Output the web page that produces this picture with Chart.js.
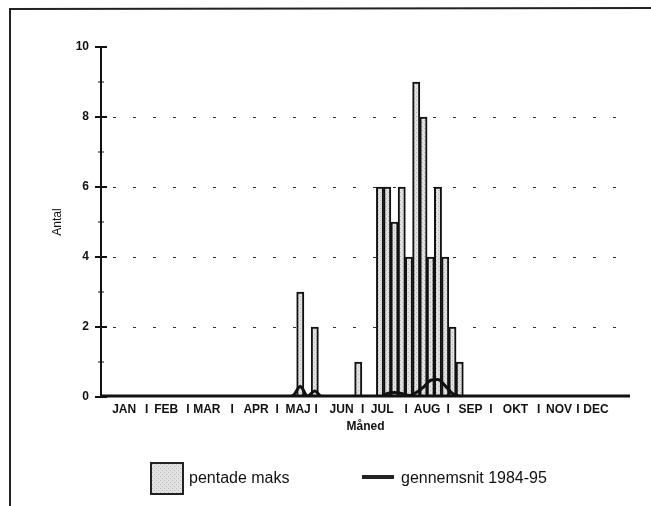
<!DOCTYPE html>
<html>
<head>
<meta charset="utf-8">
<script src="https://cdn.jsdelivr.net/npm/chart.js@4.4.1/dist/chart.umd.min.js"></script>
<style>
  html, body { margin: 0; padding: 0; background: #fff; }
  #wrap { width: 651px; height: 506px; }
</style>
</head>
<body>
<div id="wrap"><canvas id="chart" width="651" height="506"></canvas></div>
<script>
// 73 pentader (5-dages perioder) over året
const maxValues = [
  0, 0, 0, 0, 0, 0, 0, 0, 0, 0, 0, 0, 0, 0, 0, 0, 0, 0, 0, 0, 0, 0, 0, 0, 0, 0, 0,
  3, 0, 2, 0, 0, 0, 0, 0, 1, 0, 0,
  6, 6, 5, 6, 4, 9, 8, 4, 6, 4, 2, 1,
  0, 0, 0, 0, 0, 0, 0, 0, 0, 0, 0, 0, 0, 0, 0, 0, 0, 0, 0, 0, 0, 0, 0
];
const avgValues = [
  0, 0, 0, 0, 0, 0, 0, 0, 0, 0, 0, 0, 0, 0, 0, 0, 0, 0, 0, 0, 0, 0, 0, 0, 0, 0, 0.04,
  0.3, 0.03, 0.17, 0, 0, 0, 0, 0, 0, 0, 0,
  0, 0.1, 0.13, 0.1, 0.04, 0.13, 0.28, 0.48, 0.5, 0.32, 0.1, 0.02,
  0, 0, 0, 0, 0, 0, 0, 0, 0, 0, 0, 0, 0, 0, 0, 0, 0, 0, 0, 0, 0, 0, 0
];
const monthLabels = ['JAN', 'I', 'FEB', 'I', 'MAR', 'I', 'APR', 'I', 'MAJ', 'I', 'JUN', 'I',
  'JUL', 'I', 'AUG', 'I', 'SEP', 'I', 'OKT', 'I', 'NOV', 'I', 'DEC'];
const monthTickPos = [3.2, 6.3, 9.0, 12.0, 14.6, 18.1, 21.4, 24.3, 27.2, 29.7, 33.2, 36.1,
  38.8, 42.1, 45.0, 47.9, 51.0, 53.8, 57.2, 60.4, 63.2, 65.8, 68.3];
const yTicks = [0, 2, 4, 6, 8, 10];

const FONT = '"Liberation Sans", Arial, Helvetica, sans-serif';
const canvas = document.getElementById('chart');
const ctx = canvas.getContext('2d');

// grå prikket fyld som i originalen
function stipple() {
  const c = document.createElement('canvas');
  c.width = 4; c.height = 4;
  const g = c.getContext('2d');
  g.fillStyle = '#e2e2e2';
  g.fillRect(0, 0, 4, 4);
  g.fillStyle = '#b5b5b5';
  g.fillRect(0, 0, 1, 1);
  g.fillRect(2, 2, 1, 1);
  return ctx.createPattern(c, 'repeat');
}
const barFill = stipple();

const decor = {
  id: 'decor',
  beforeDraw(chart) {
    const c = chart.ctx;
    c.save();
    c.fillStyle = '#fff';
    c.fillRect(0, 0, chart.width, chart.height);
    // sidens ramme
    c.strokeStyle = '#222';
    c.lineWidth = 2;
    c.beginPath();
    c.moveTo(10, 506);
    c.lineTo(10, 9);
    c.lineTo(651, 8);
    c.stroke();
    c.restore();
  },
  beforeDatasetsDraw(chart) {
    const c = chart.ctx, y = chart.scales.y, a = chart.chartArea;
    c.save();
    c.setLineDash([3, 17]);
    c.lineWidth = 1;
    c.strokeStyle = '#333';
    [2, 4, 6, 8].forEach(v => {
      const py = Math.round(y.getPixelForValue(v)) + 0.5;
      c.beginPath();
      c.moveTo(a.left + 12, py);
      c.lineTo(a.right, py);
      c.stroke();
    });
    c.restore();
  },
  afterDatasetsDraw(chart) {
    const c = chart.ctx, y = chart.scales.y, a = chart.chartArea;
    c.save();
    c.strokeStyle = '#111';
    // y-akse
    c.lineWidth = 2;
    c.beginPath();
    c.moveTo(a.left, y.getPixelForValue(10));
    c.lineTo(a.left, y.getPixelForValue(0));
    c.stroke();
    for (let v = 0; v <= 10; v++) {
      const py = y.getPixelForValue(v);
      const half = v % 2 === 0 ? 6 : 3;
      c.lineWidth = v % 2 === 0 ? 2 : 1;
      c.beginPath();
      c.moveTo(a.left - half, py);
      c.lineTo(a.left + half, py);
      c.stroke();
    }
    // x-akse (tyk linje)
    c.lineWidth = 3;
    c.beginPath();
    c.moveTo(a.left, y.getPixelForValue(0) - 1);
    c.lineTo(a.right, y.getPixelForValue(0) - 1);
    c.stroke();
    c.restore();
  },
  afterDraw(chart) {
    const c = chart.ctx;
    c.save();
    // forklaring
    c.fillStyle = barFill;
    c.fillRect(151, 463, 32, 31);
    c.strokeStyle = '#222';
    c.lineWidth = 2;
    c.strokeRect(151, 463, 32, 31);
    c.fillStyle = '#111';
    c.font = '16px ' + FONT;
    c.textBaseline = 'middle';
    c.fillText('pentade maks', 189, 479);
    c.lineWidth = 4;
    c.beginPath();
    c.moveTo(362, 477);
    c.lineTo(394, 477);
    c.stroke();
    c.fillText('gennemsnit 1984-95', 401, 479);
    c.restore();
  }
};

new Chart(ctx, {
  type: 'bar',
  data: {
    datasets: [
      {
        type: 'line',
        label: 'gennemsnit 1984-95',
        data: avgValues.map((v, i) => ({ x: i + 0.5, y: v })),
        borderColor: '#111',
        borderWidth: 3,
        pointRadius: 0,
        cubicInterpolationMode: 'monotone',
        order: 0
      },
      {
        label: 'pentade maks',
        data: maxValues.map((v, i) => ({ x: i + 0.5, y: v === 0 ? null : v })),
        backgroundColor: barFill,
        borderColor: '#111',
        borderWidth: 2,
        borderSkipped: false,
        barPercentage: 1,
        categoryPercentage: 1,
        order: 1
      }
    ]
  },
  options: {
    responsive: false,
    animation: false,
    layout: { padding: { left: 44, top: 47, right: 21, bottom: 70 } },
    plugins: {
      legend: { display: false },
      tooltip: { enabled: false }
    },
    scales: {
      x: {
        type: 'linear',
        min: 0,
        max: 73,
        offset: false,
        grid: { display: false, drawTicks: false },
        border: { display: false },
        afterBuildTicks: s => { s.ticks = monthTickPos.map(v => ({ value: v })); },
        afterFit: s => { s.height = 39; },
        ticks: {
          autoSkip: false,
          maxRotation: 0,
          padding: 5,
          color: '#111',
          font: { family: FONT, size: 12, weight: 'bold' },
          callback: (val, i) => monthLabels[i]
        },
        title: {
          display: true,
          text: 'Måned',
          color: '#111',
          font: { family: FONT, size: 12, weight: 'bold' },
          padding: { top: 0, bottom: 2 }
        }
      },
      y: {
        min: 0,
        max: 10,
        grid: { display: false, drawTicks: false },
        border: { display: false },
        afterBuildTicks: s => { s.ticks = yTicks.map(v => ({ value: v })); },
        afterFit: s => { s.width = 57; },
        ticks: {
          padding: 12,
          color: '#111',
          font: { family: FONT, size: 12, weight: 'bold' }
        },
        title: {
          display: true,
          text: 'Antal',
          color: '#111',
          font: { family: FONT, size: 12 },
          padding: { top: 6, bottom: 0 }
        }
      }
    }
  },
  plugins: [decor]
});
</script>
</body>
</html>
